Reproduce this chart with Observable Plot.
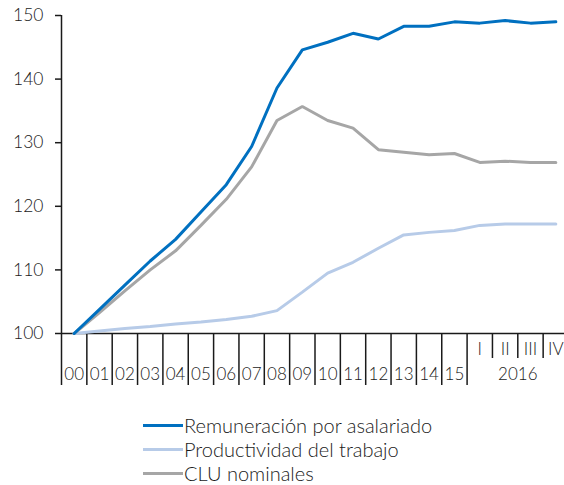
<!DOCTYPE html>
<html><head><meta charset="utf-8">
<script src="https://cdn.jsdelivr.net/npm/d3@7"></script>
<script src="https://cdn.jsdelivr.net/npm/@observablehq/plot@0.6"></script>
<style>
body{margin:0;background:#fff;font-family:Lato,"Open Sans",sans-serif;color:#1a1a1a;}
#legend{padding:13px 0 0 143px;font-size:20px;line-height:24px;font-weight:300}
.row{display:flex;align-items:center;height:24px}
.sw{width:40px;height:3px;margin-right:1px}
</style></head><body>
<div id="chart"></div><div id="legend"></div>
<script>
const periods = ["00","01","02","03","04","05","06","07","08","09","10","11","12","13","14","15","I","II","III","IV"];
const quarterYear = "2016";
const yTicks = [100, 110, 120, 130, 140, 150];

const names = ["Remuneración por asalariado", "Productividad del trabajo", "CLU nominales"];
const colors = ["#0070c0", "#b7cbe8", "#a6a6a6"];

const remuneracion = [100, 103.8, 107.6, 111.4, 114.8, 119.1, 123.4, 129.4, 138.6, 144.6, 145.8, 147.2, 146.3, 148.3, 148.3, 149.0, 148.8, 149.2, 148.8, 149.0];
const productividad = [100, 100.4, 100.8, 101.1, 101.5, 101.8, 102.2, 102.7, 103.6, 106.5, 109.5, 111.2, 113.4, 115.5, 115.9, 116.2, 117.0, 117.2, 117.2, 117.2];
const clu = [100, 103.3, 106.7, 110.0, 113.0, 117.0, 121.1, 126.2, 133.5, 135.7, 133.5, 132.3, 128.9, 128.5, 128.1, 128.3, 126.9, 127.1, 126.9, 126.9];

const seriesValues = [remuneracion, productividad, clu];
const drawOrder = [1, 2, 0];
const rows = [];
drawOrder.forEach(k => seriesValues[k].forEach((v, i) => rows.push({i, v, name: names[k]})));

const idx = periods.map((_, i) => i);
const yearIdx = idx.filter(i => /^\d+$/.test(periods[i]));
const quarterIdx = idx.filter(i => !/^\d+$/.test(periods[i]));
const fullSep = [-0.5, ...yearIdx.map(i => i + 0.5)];
const shortSep = quarterIdx.slice(0, -1).map(i => i + 0.5);
const groupCenter = d3.mean(quarterIdx);

const ink = "#1a1a1a";
const chart = Plot.plot({
  width: 564, height: 400,
  marginTop: 15, marginBottom: 67, marginLeft: 61, marginRight: 0,
  style: {fontFamily: "Lato, 'Open Sans', sans-serif", fontSize: "17px", color: ink, overflow: "visible", background: "#fff"},
  x: {type: "linear", domain: [-0.5, periods.length - 0.5], range: [61, 568], axis: null, label: null},
  y: {domain: [100, 150], axis: null, label: null},
  color: {domain: names, range: colors},
  marks: [
    Plot.axisY({ticks: yTicks, tickSize: 6, tickPadding: 12, fontSize: 17.5, strokeWidth: 1.5, stroke: ink, label: null, fontWeight: 300}),
    Plot.ruleY([100], {stroke: ink, strokeWidth: 1.5}),
    Plot.ruleX([-0.5], {y1: 100, y2: 150, stroke: ink, strokeWidth: 1.5}),
    Plot.axisX({ticks: fullSep, tickSize: 52, tickFormat: () => "", strokeWidth: 1.5, stroke: ink, label: null}),
    Plot.axisX({ticks: shortSep, tickSize: 25, tickFormat: () => "", strokeWidth: 1.5, stroke: ink, label: null}),
    Plot.axisX({ticks: yearIdx, tickSize: 0, tickPadding: 34, tickFormat: i => periods[i], fontSize: 17, label: null, fontWeight: 300}),
    Plot.axisX({ticks: quarterIdx, tickSize: 0, tickPadding: 9, tickFormat: i => periods[i], fontSize: 17, label: null, fontWeight: 300}),
    Plot.axisX({ticks: [groupCenter], tickSize: 0, tickPadding: 34, tickFormat: () => quarterYear, fontSize: 17, label: null, fontWeight: 300}),
    Plot.line(rows, {x: "i", y: "v", stroke: "name", z: "name", strokeWidth: 3, strokeLinejoin: "miter"})
  ]
});
document.getElementById("chart").appendChild(chart);

const legend = document.getElementById("legend");
names.forEach((n, k) => {
  const r = document.createElement("div"); r.className = "row";
  const s = document.createElement("span"); s.className = "sw"; s.style.background = colors[k];
  const t = document.createElement("span"); t.textContent = n;
  r.appendChild(s); r.appendChild(t); legend.appendChild(r);
});
</script>
</body></html>
